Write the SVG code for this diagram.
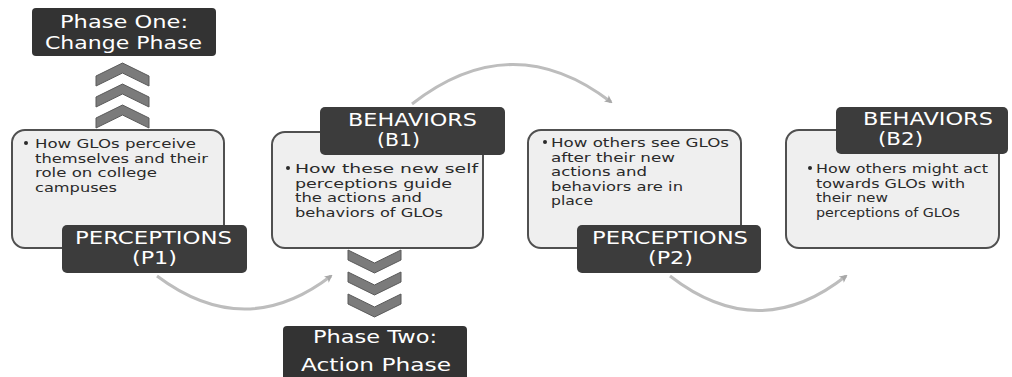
<svg xmlns="http://www.w3.org/2000/svg" width="1012" height="377" viewBox="0 0 1012 377">
<defs>
<style>
.card{fill:#efefef;stroke:#505050;stroke-width:2}
.lab{fill:#3c3c3c}
.ph{fill:#333333}
.lt{font-family:"DejaVu Sans","Open Sans",sans-serif;font-size:17px;fill:#ffffff}
.bt{font-family:"DejaVu Sans","Open Sans",sans-serif;font-size:12.5px;fill:#2a2a2a}
.chev{fill:#7b7b7b;stroke:#5a5a5a;stroke-width:1}
.con{fill:none;stroke:#bdbdbd;stroke-width:3}
.dot{fill:#2a2a2a}
</style>
<marker id="ah" markerWidth="8" markerHeight="8" refX="6" refY="4" orient="auto" markerUnits="userSpaceOnUse">
<path d="M0,0 L8,4 L0,8 L2,4 Z" fill="#a8a8a8"/>
</marker>
</defs>
<rect width="1012" height="377" fill="#ffffff"/>

<g id="connectors">
<path class="con" d="M157,276 Q245,342 331,276" marker-end="url(#ah)"/>
<path class="con" d="M412,104 Q512,26 611,102" marker-end="url(#ah)"/>
<path class="con" d="M670,276 Q759,345 846,276" marker-end="url(#ah)"/>
</g>

<g id="phase-one">
<rect class="ph" x="32" y="8" width="184" height="48" rx="4"/>
<text class="lt" x="124" y="28" text-anchor="middle" textLength="128" lengthAdjust="spacingAndGlyphs">Phase One:</text>
<text class="lt" x="123.5" y="49" text-anchor="middle" textLength="157" lengthAdjust="spacingAndGlyphs">Change Phase</text>
</g>

<g id="chevrons-up">
<path class="chev" d="M96,76 L122.5,63 L149,76 L149,86 L122.5,73 L96,86 Z"/>
<path class="chev" d="M96,97 L122.5,84 L149,97 L149,107 L122.5,94 L96,107 Z"/>
<path class="chev" d="M96,118 L122.5,105 L149,118 L149,128 L122.5,115 L96,128 Z"/>
</g>

<g id="p1">
<rect class="card" x="12" y="130" width="212" height="118" rx="13"/>
<circle class="dot" cx="26" cy="143" r="2"/>
<text class="bt" x="35" y="148" textLength="161" lengthAdjust="spacingAndGlyphs">How GLOs perceive</text>
<text class="bt" x="35" y="162.5" textLength="173" lengthAdjust="spacingAndGlyphs">themselves and their</text>
<text class="bt" x="35" y="177" textLength="122" lengthAdjust="spacingAndGlyphs">role on college</text>
<text class="bt" x="35" y="191.5" textLength="82" lengthAdjust="spacingAndGlyphs">campuses</text>
<rect class="lab" x="62" y="225" width="185" height="48" rx="5"/>
<text class="lt" x="153.5" y="244" text-anchor="middle" textLength="157" lengthAdjust="spacingAndGlyphs">PERCEPTIONS</text>
<text class="lt" x="154.5" y="264" text-anchor="middle" textLength="45" lengthAdjust="spacingAndGlyphs">(P1)</text>
</g>

<g id="b1">
<rect class="card" x="272" y="132" width="211" height="116" rx="13"/>
<circle class="dot" cx="288" cy="168" r="2"/>
<text class="bt" x="295" y="173" textLength="183" lengthAdjust="spacingAndGlyphs">How these new self</text>
<text class="bt" x="295" y="187.5" textLength="157" lengthAdjust="spacingAndGlyphs">perceptions guide</text>
<text class="bt" x="295" y="202" textLength="127" lengthAdjust="spacingAndGlyphs">the actions and</text>
<text class="bt" x="295" y="216.5" textLength="148" lengthAdjust="spacingAndGlyphs">behaviors of GLOs</text>
<rect class="lab" x="320" y="107" width="185" height="48" rx="5"/>
<text class="lt" x="412.5" y="126" text-anchor="middle" textLength="129" lengthAdjust="spacingAndGlyphs">BEHAVIORS</text>
<text class="lt" x="398.5" y="146" text-anchor="middle" textLength="43" lengthAdjust="spacingAndGlyphs">(B1)</text>
</g>

<g id="chevrons-down">
<path class="chev" d="M348,250 L374.5,263 L401,250 L401,260 L374.5,273 L348,260 Z"/>
<path class="chev" d="M348,272 L374.5,285 L401,272 L401,282 L374.5,295 L348,282 Z"/>
<path class="chev" d="M348,294 L374.5,307 L401,294 L401,304 L374.5,317 L348,304 Z"/>
</g>

<g id="phase-two">
<rect class="ph" x="283" y="326" width="184" height="55" rx="4"/>
<text class="lt" x="375" y="343" text-anchor="middle" textLength="124" lengthAdjust="spacingAndGlyphs">Phase Two:</text>
<text class="lt" x="376" y="371" text-anchor="middle" textLength="150" lengthAdjust="spacingAndGlyphs">Action Phase</text>
</g>

<g id="p2">
<rect class="card" x="528" y="130" width="213" height="118" rx="13"/>
<circle class="dot" cx="545" cy="142" r="2"/>
<text class="bt" x="551" y="147" textLength="178" lengthAdjust="spacingAndGlyphs">How others see GLOs</text>
<text class="bt" x="551" y="161.5" textLength="124" lengthAdjust="spacingAndGlyphs">after their new</text>
<text class="bt" x="551" y="176" textLength="96" lengthAdjust="spacingAndGlyphs">actions and</text>
<text class="bt" x="551" y="190.5" textLength="132" lengthAdjust="spacingAndGlyphs">behaviors are in</text>
<text class="bt" x="551" y="205" textLength="42" lengthAdjust="spacingAndGlyphs">place</text>
<rect class="lab" x="577" y="225" width="184" height="48" rx="5"/>
<text class="lt" x="670" y="244" text-anchor="middle" textLength="156" lengthAdjust="spacingAndGlyphs">PERCEPTIONS</text>
<text class="lt" x="670.5" y="264" text-anchor="middle" textLength="45" lengthAdjust="spacingAndGlyphs">(P2)</text>
</g>

<g id="b2">
<rect class="card" x="786" y="130" width="213" height="118" rx="13"/>
<circle class="dot" cx="810" cy="168" r="2"/>
<text class="bt" x="816" y="173" textLength="172" lengthAdjust="spacingAndGlyphs">How others might act</text>
<text class="bt" x="816" y="187.5" textLength="149" lengthAdjust="spacingAndGlyphs">towards GLOs with</text>
<text class="bt" x="816" y="202" textLength="72" lengthAdjust="spacingAndGlyphs">their new</text>
<text class="bt" x="816" y="216.5" textLength="144" lengthAdjust="spacingAndGlyphs">perceptions of GLOs</text>
<rect class="lab" x="836" y="107" width="172" height="47" rx="5"/>
<text class="lt" x="928" y="125" text-anchor="middle" textLength="130" lengthAdjust="spacingAndGlyphs">BEHAVIORS</text>
<text class="lt" x="900.5" y="145" text-anchor="middle" textLength="45" lengthAdjust="spacingAndGlyphs">(B2)</text>
</g>
</svg>
